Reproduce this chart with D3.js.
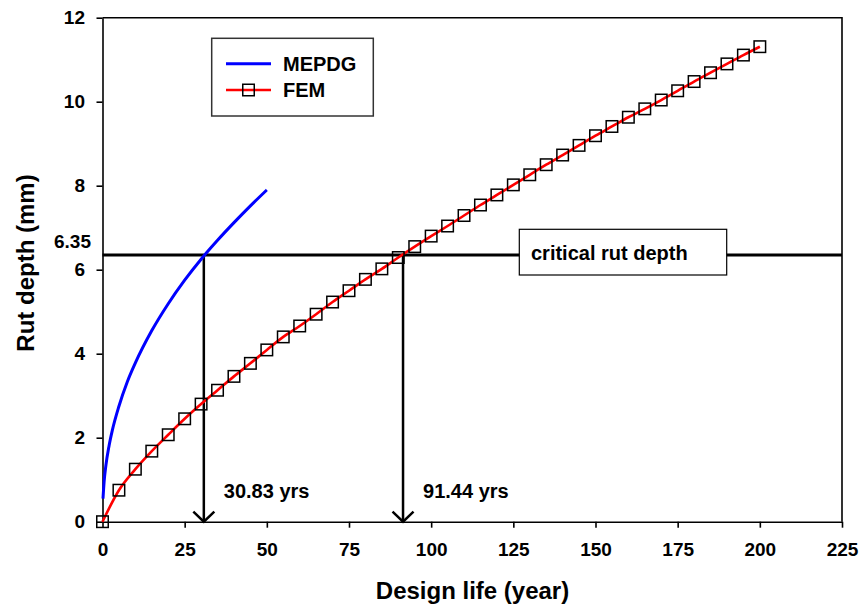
<!DOCTYPE html>
<html>
<head>
<meta charset="utf-8">
<script src="https://cdn.jsdelivr.net/npm/d3@7"></script>
<style>
  html, body { margin: 0; padding: 0; background: #fff; }
  svg { display: block; }
  text { font-family: "Liberation Sans", Arial, sans-serif; font-weight: bold; fill: #000; }
</style>
</head>
<body>
<svg id="chart" width="860" height="610"></svg>
<script>
// Rut depth prediction: MEPDG model vs finite element model
const mepdgYears = [0.15, 0.5, 1, 2, 3, 5, 7.5, 10, 15, 20, 25, 30, 35, 40, 45, 50];
const mepdgRut   = [0.55, 0.96, 1.32, 1.81, 2.18, 2.75, 3.32, 3.78, 4.55, 5.19, 5.75, 6.25, 6.70, 7.12, 7.52, 7.90];

const femYears = [0, 5, 10, 15, 20, 25, 30, 35, 40, 45, 50, 55, 60, 65, 70, 75, 80, 85, 90, 95, 100,
                  105, 110, 115, 120, 125, 130, 135, 140, 145, 150, 155, 160, 165, 170, 175, 180, 185, 190, 195, 200];
const femRut   = [0, 0.75, 1.25, 1.68, 2.07, 2.45, 2.80, 3.13, 3.46, 3.77, 4.09, 4.40, 4.66, 4.94, 5.23, 5.50,
                  5.77, 6.02, 6.29, 6.55, 6.80, 7.04, 7.29, 7.54, 7.78, 8.02, 8.26, 8.50, 8.73, 8.96, 9.19,
                  9.41, 9.63, 9.83, 10.04, 10.26, 10.48, 10.69, 10.90, 11.11, 11.31];

const criticalDepth = 6.35;
const failureYears = [30.83, 91.44];
const failureLabels = ["30.83 yrs", "91.44 yrs"];

const xTicks = [0, 25, 50, 75, 100, 125, 150, 175, 200, 225];
const yTicks = [0, 2, 4, 6, 8, 10, 12];

const seriesNames = ["MEPDG", "FEM"];
const seriesColors = ["#0000ff", "#ff0000"];

const svg = d3.select("#chart");
const plot = { left: 102.5, right: 842, top: 17.7, bottom: 521.7 };

const x = d3.scaleLinear().domain([0, 225]).range([plot.left, plot.right]);
const y = d3.scaleLinear().domain([0, 12]).range([plot.bottom, plot.top]);

// Axes
const xAxis = svg.append("g")
  .attr("transform", `translate(0,${plot.bottom})`)
  .call(d3.axisBottom(x).tickValues(xTicks).tickSize(6).tickSizeOuter(0).tickPadding(15));
const yAxis = svg.append("g")
  .attr("transform", `translate(${plot.left},0)`)
  .call(d3.axisLeft(y).tickValues(yTicks).tickSize(6).tickSizeOuter(0).tickPadding(11.5));

[xAxis, yAxis].forEach(g => {
  g.selectAll("path.domain").attr("stroke", "#000").attr("stroke-width", 1.6);
  g.selectAll(".tick line").attr("stroke", "#000").attr("stroke-width", 1.6);
  g.selectAll(".tick text")
    .style("font-family", '"Liberation Sans", Arial, sans-serif')
    .style("font-weight", "bold").style("font-size", "19px").attr("fill", "#000");
});

// Frame: top and right edges
svg.append("path")
  .attr("d", `M${x(0)},${y(12)}H${x(225)}V${y(0)}`)
  .attr("fill", "none").attr("stroke", "#000").attr("stroke-width", 1.6);

// Axis titles
svg.append("text")
  .attr("x", 472.5).attr("y", 599)
  .attr("text-anchor", "middle").style("font-size", "24px")
  .text("Design life (year)");
svg.append("text")
  .attr("transform", "translate(33.5,263) rotate(-90)")
  .attr("text-anchor", "middle").style("font-size", "24px")
  .text("Rut depth (mm)");

// Critical rut depth line
svg.append("line")
  .attr("x1", x(0)).attr("x2", x(225))
  .attr("y1", y(criticalDepth)).attr("y2", y(criticalDepth))
  .attr("stroke", "#000").attr("stroke-width", 3);
svg.append("text")
  .attr("x", 91).attr("y", y(criticalDepth) - 7)
  .attr("text-anchor", "end").style("font-size", "19px")
  .text(criticalDepth.toFixed(2));

// Failure-year arrows
failureYears.forEach((yr, i) => {
  const px = x(yr), y0 = y(0);
  svg.append("line")
    .attr("x1", px).attr("x2", px)
    .attr("y1", y(criticalDepth)).attr("y2", y0)
    .attr("stroke", "#000").attr("stroke-width", 2.5);
  svg.append("path")
    .attr("d", `M${px - 10.5},${y0 - 10}L${px},${y0}L${px + 10.5},${y0 - 10}`)
    .attr("fill", "none").attr("stroke", "#000").attr("stroke-width", 2.5);
  svg.append("text")
    .attr("x", px + 20).attr("y", y0 - 24)
    .style("font-size", "20px")
    .text(failureLabels[i]);
});

// Curves
const line = d3.line().x(d => x(d[0])).y(d => y(d[1])).curve(d3.curveMonotoneX);
svg.append("path")
  .datum(mepdgYears.map((t, i) => [t, mepdgRut[i]]))
  .attr("d", line)
  .attr("fill", "none").attr("stroke", seriesColors[0]).attr("stroke-width", 3);

const femData = femYears.map((t, i) => [t, femRut[i]]);
svg.append("path")
  .datum(femData)
  .attr("d", line)
  .attr("fill", "none").attr("stroke", seriesColors[1]).attr("stroke-width", 2.6);

const sq = 11.5;
svg.append("g").selectAll("rect")
  .data(femData).join("rect")
  .attr("x", d => x(d[0]) - sq / 2).attr("y", d => y(d[1]) - sq / 2)
  .attr("width", sq).attr("height", sq)
  .attr("fill", "none").attr("stroke", "#000").attr("stroke-width", 1.5);

// Critical depth label box
svg.append("rect")
  .attr("x", 519.3).attr("y", 229.3).attr("width", 207.4).attr("height", 45.7)
  .attr("fill", "#fff").attr("stroke", "#000").attr("stroke-width", 1.2);
svg.append("text")
  .attr("x", 531).attr("y", 259.5).style("font-size", "20px")
  .text("critical rut depth");

// Legend
const legend = svg.append("g");
legend.append("rect")
  .attr("x", 211.7).attr("y", 38.3).attr("width", 161.6).attr("height", 77.7)
  .attr("fill", "#fff").attr("stroke", "#333").attr("stroke-width", 1.5);
const legendRows = [63.7, 90];
seriesNames.forEach((name, i) => {
  const ly = legendRows[i];
  legend.append("line")
    .attr("x1", 226).attr("x2", 271).attr("y1", ly).attr("y2", ly)
    .attr("stroke", seriesColors[i]).attr("stroke-width", i === 0 ? 3 : 2.6);
  if (i === 1) {
    legend.append("rect")
      .attr("x", 248.5 - sq / 2).attr("y", ly - sq / 2).attr("width", sq).attr("height", sq)
      .attr("fill", "none").attr("stroke", "#000").attr("stroke-width", 1.5);
  }
  legend.append("text")
    .attr("x", 283).attr("y", ly + 7.3).style("font-size", "20px")
    .text(name);
});
</script>
</body>
</html>
